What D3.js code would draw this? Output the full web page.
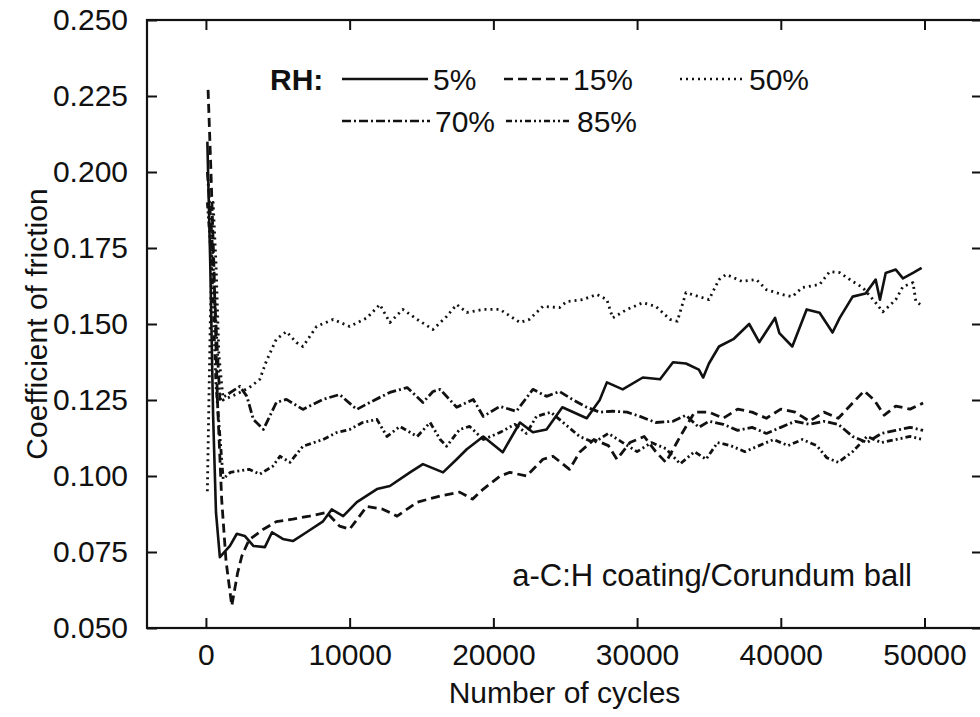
<!DOCTYPE html>
<html>
<head>
<meta charset="utf-8">
<script src="https://cdn.jsdelivr.net/npm/d3@7"></script>
<style>
  body { margin: 0; background: #fff; }
  text { font-family: "Liberation Sans", Arial, Helvetica, sans-serif; fill: #111; }
</style>
</head>
<body>
<div id="grafico"></div>
<script>
const width = 980
const height = 717

// [cycles, coefficient of friction]
const rh5 = [[100,0.210],[300,0.170],[500,0.120],[700,0.088],[970,0.0733],[1670,0.077],[2150,0.081],[2700,0.0803],[3300,0.077],[4100,0.0766],[4600,0.0815],[5350,0.0793],[6050,0.0786],[7000,0.0815],[8150,0.0851],[8750,0.089],[9550,0.0868],[10500,0.0914],[11900,0.0957],[12800,0.0967],[14200,0.1012],[15100,0.1039],[16500,0.1012],[17450,0.1055],[18150,0.1088],[19300,0.113],[20650,0.1078],[21850,0.1176],[22750,0.1144],[23700,0.1153],[24800,0.1226],[26500,0.119],[27400,0.125],[27900,0.1308],[29000,0.1285],[30400,0.1324],[31600,0.1318],[32500,0.1374],[33400,0.137],[34300,0.135],[34600,0.1324],[35000,0.137],[35700,0.1426],[36700,0.145],[37800,0.150],[38500,0.144],[39600,0.152],[39900,0.147],[40800,0.1426],[41800,0.1548],[42700,0.1537],[43600,0.1472],[44100,0.152],[45000,0.159],[45900,0.160],[46600,0.1646],[46900,0.158],[47300,0.1668],[48000,0.1679],[48500,0.165],[49200,0.1668],[49800,0.1685]]

const rh15 = [[150,0.227],[350,0.200],[550,0.170],[800,0.125],[1100,0.092],[1400,0.072],[1800,0.0573],[2200,0.068],[2500,0.0737],[3000,0.079],[4000,0.0825],[4900,0.085],[6050,0.0858],[7200,0.0868],[8400,0.088],[9300,0.0835],[10000,0.0825],[11200,0.090],[12300,0.0891],[13300,0.0868],[14700,0.0914],[16300,0.0934],[17650,0.0947],[18550,0.0924],[19300,0.0957],[20450,0.0999],[21150,0.1012],[22300,0.100],[23450,0.1055],[24150,0.1065],[25300,0.1022],[26000,0.1078],[27000,0.112],[28000,0.110],[28600,0.1055],[29500,0.111],[30500,0.113],[31300,0.108],[32000,0.1045],[33000,0.113],[34000,0.121],[35000,0.121],[36000,0.119],[37000,0.122],[38000,0.121],[39000,0.119],[40000,0.122],[41000,0.121],[42000,0.118],[43000,0.121],[44000,0.119],[45000,0.124],[45800,0.128],[46500,0.125],[47200,0.120],[48000,0.123],[49000,0.122],[49900,0.124]]

const rh50 = [[100,0.095],[300,0.150],[500,0.190],[700,0.170],[900,0.140],[1200,0.125],[2150,0.127],[3000,0.129],[3750,0.1318],[4200,0.1377],[4900,0.145],[5600,0.1475],[6300,0.1439],[6750,0.1426],[7700,0.1492],[8850,0.1515],[10000,0.1492],[11200,0.152],[12100,0.1564],[12800,0.1505],[13700,0.1548],[14700,0.1515],[15800,0.1482],[16750,0.1525],[17450,0.1564],[18150,0.1538],[19300,0.1548],[20450,0.1548],[21850,0.1505],[22500,0.1515],[23450,0.1558],[24600,0.1554],[25100,0.1574],[26200,0.158],[27200,0.1597],[27900,0.158],[28300,0.152],[29300,0.1548],[30400,0.157],[31300,0.1558],[32300,0.1515],[32800,0.1509],[33400,0.1603],[34300,0.159],[35000,0.158],[35700,0.1646],[36200,0.1663],[37300,0.164],[38300,0.1646],[39000,0.1613],[40100,0.1597],[40800,0.159],[41500,0.162],[42700,0.163],[43400,0.1672],[44100,0.1669],[45000,0.164],[45700,0.162],[46600,0.157],[47100,0.154],[48000,0.158],[48500,0.1623],[49200,0.1636],[49400,0.1574],[49900,0.1558]]

const rh70 = [[100,0.200],[400,0.180],[700,0.150],[970,0.1252],[2360,0.1295],[2850,0.1262],[3300,0.1186],[4000,0.1153],[4900,0.1242],[5600,0.1252],[6750,0.1219],[8150,0.1252],[9300,0.1268],[10500,0.1219],[11400,0.1242],[12800,0.1275],[14000,0.1291],[15100,0.1242],[15800,0.1278],[16300,0.1285],[17450,0.1226],[18600,0.1252],[19300,0.1196],[20450,0.1229],[21600,0.1213],[22750,0.1285],[23700,0.1262],[24600,0.1278],[25500,0.1252],[26500,0.1226],[27400,0.121],[28300,0.1213],[29300,0.121],[30200,0.1196],[31300,0.1176],[32500,0.118],[33400,0.120],[34300,0.116],[35000,0.118],[36000,0.117],[37000,0.115],[38000,0.116],[39000,0.114],[40000,0.116],[41000,0.118],[42000,0.117],[43000,0.118],[44000,0.117],[45000,0.113],[46000,0.111],[47000,0.114],[48000,0.115],[49000,0.116],[49900,0.115]]

const rh85 = [[100,0.190],[400,0.170],[700,0.130],[1200,0.099],[1700,0.1012],[3000,0.1022],[3750,0.1006],[4650,0.1032],[5150,0.1065],[5850,0.1045],[6750,0.1098],[8150,0.112],[9100,0.1143],[10000,0.1153],[10900,0.1176],[11900,0.1186],[12600,0.113],[13500,0.1163],[14700,0.113],[15600,0.1176],[16300,0.112],[16750,0.1098],[17650,0.1153],[18350,0.1163],[19300,0.112],[20450,0.1143],[21500,0.117],[22300,0.114],[23000,0.1196],[24000,0.121],[25000,0.117],[26000,0.113],[27000,0.111],[28000,0.114],[29000,0.111],[30000,0.108],[31000,0.111],[32000,0.109],[33000,0.104],[34000,0.108],[34800,0.1055],[35600,0.111],[36500,0.110],[37500,0.108],[38500,0.110],[39500,0.112],[40500,0.110],[41500,0.112],[42500,0.110],[43200,0.106],[44000,0.1045],[45000,0.108],[46000,0.113],[47000,0.111],[48000,0.112],[49000,0.113],[49900,0.112]]

const seriesNames = ['5%', '15%', '50%', '70%', '85%']
const seriesData = [rh5, rh15, rh50, rh70, rh85]
const dashes = ['none', '9,5', '2,4', '9,3,2,3', '6,3,2,3,2,3']

const xTicks = [0, 10000, 20000, 30000, 40000, 50000]
const yTicks = [0.050, 0.075, 0.100, 0.125, 0.150, 0.175, 0.200, 0.225, 0.250]

// the right edge of the frame sits just past the picture, as in the scan
const plotLeft = 147, plotRight = 982, plotTop = 20, plotBottom = 628

const x = d3.scaleLinear().domain([-4100, 54000]).range([plotLeft, plotRight])
const y = d3.scaleLinear().domain([0.05, 0.25]).range([plotBottom, plotTop])

const svg = d3.select('#grafico').append('svg')
              .attr('width', width)
              .attr('height', height)

svg.append('rect').attr('width', width).attr('height', height).attr('fill', '#fff')

const line = d3.line()
               .x(d => x(d[0]))
               .y(d => y(d[1]))

svg.append('g')
   .selectAll('path')
   .data(seriesData)
   .enter()
   .append('path')
   .attr('d', d => line(d))
   .attr('fill', 'none')
   .attr('stroke', '#111')
   .attr('stroke-width', (d, i) => i == 0 ? 2.6 : 2.8)
   .attr('stroke-dasharray', (d, i) => dashes[i])
   .attr('stroke-linejoin', 'round')

// axes: ticks point inward on all four sides
const tickLen = 10
const fontSize = 30

svg.append('g')
   .attr('transform', `translate(0,${plotBottom})`)
   .call(d3.axisBottom(x).tickValues(xTicks).tickSize(-tickLen).tickPadding(16).tickFormat(d3.format('d')))
   .call(g => g.select('.domain').remove())

svg.append('g')
   .attr('transform', `translate(0,${plotTop})`)
   .call(d3.axisTop(x).tickValues(xTicks).tickSize(-tickLen).tickFormat(''))
   .call(g => g.select('.domain').remove())

svg.append('g')
   .attr('transform', `translate(${plotLeft},0)`)
   .call(d3.axisLeft(y).tickValues(yTicks).tickSize(-tickLen).tickPadding(19).tickFormat(d3.format('.3f')))
   .call(g => g.select('.domain').remove())

svg.append('g')
   .attr('transform', `translate(${plotRight},0)`)
   .call(d3.axisRight(y).tickValues(yTicks).tickSize(-tickLen).tickFormat(''))
   .call(g => g.select('.domain').remove())

svg.selectAll('.tick line').attr('stroke', '#111').attr('stroke-width', 2)
svg.selectAll('.tick text').style('font-size', fontSize + 'px').attr('fill', '#111')

svg.append('rect')
   .attr('x', plotLeft).attr('y', plotTop)
   .attr('width', plotRight - plotLeft).attr('height', plotBottom - plotTop)
   .attr('fill', 'none').attr('stroke', '#111').attr('stroke-width', 2.2)

svg.append('text')
   .attr('x', (plotLeft + plotRight) / 2).attr('y', 703)
   .attr('text-anchor', 'middle')
   .style('font-size', fontSize + 'px')
   .text('Number of cycles')

svg.append('text')
   .attr('transform', `translate(47,${(plotTop + plotBottom) / 2}) rotate(-90)`)
   .attr('text-anchor', 'middle')
   .style('font-size', fontSize + 'px')
   .text('Coefficient of friction')

svg.append('text')
   .attr('x', 912).attr('y', 586)
   .attr('text-anchor', 'end')
   .style('font-size', '31px')
   .text('a-C:H coating/Corundum ball')

// legend
const legendItems = [
  {x1: 342, x2: 428, row: 0},
  {x1: 504, x2: 568, row: 0},
  {x1: 680, x2: 744, row: 0},
  {x1: 342, x2: 430, row: 1},
  {x1: 506, x2: 572, row: 1}
]
const rowY = [79, 121]

svg.append('text')
   .attr('x', 270).attr('y', rowY[0] + 11)
   .style('font-size', fontSize + 'px')
   .style('font-weight', 'bold')
   .text('RH:')

const leg = svg.append('g')
               .selectAll('g')
               .data(legendItems)
               .enter()
               .append('g')

leg.append('line')
   .attr('x1', d => d.x1).attr('x2', d => d.x2)
   .attr('y1', d => rowY[d.row]).attr('y2', d => rowY[d.row])
   .attr('stroke', '#111')
   .attr('stroke-width', 2.6)
   .attr('stroke-dasharray', (d, i) => dashes[i])

leg.append('text')
   .attr('x', d => d.x2 + 5)
   .attr('y', d => rowY[d.row] + 11)
   .style('font-size', fontSize + 'px')
   .text((d, i) => seriesNames[i])
</script>
</body>
</html>
